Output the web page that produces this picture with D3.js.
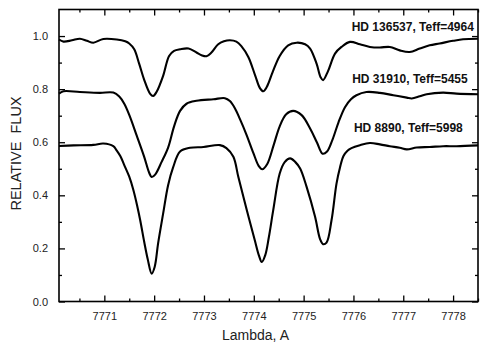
<!DOCTYPE html>
<html>
<head>
<meta charset="utf-8">
<script src="https://cdn.jsdelivr.net/npm/d3@7"></script>
<style>
  body { margin: 0; background: #fff; }
  text { font-family: "Liberation Sans", Arial, sans-serif; }
</style>
</head>
<body>
<div id="chart-container"></div>
<script>
// Spectra: [wavelength, relative flux]
const hd136537 = [
  [7770.09,0.987],[7770.18,0.979],[7770.35,0.984],[7770.51,0.990],[7770.65,0.982],[7770.78,0.975],
  [7770.98,0.989],[7771.25,0.987],[7771.42,0.980],[7771.50,0.972],[7771.60,0.950],[7771.70,0.895],
  [7771.80,0.835],[7771.92,0.782],[7771.98,0.774],[7772.05,0.790],[7772.18,0.850],[7772.30,0.925],
  [7772.40,0.944],[7772.52,0.950],[7772.69,0.953],[7772.85,0.938],[7772.95,0.928],[7773.05,0.924],
  [7773.15,0.938],[7773.28,0.968],[7773.40,0.980],[7773.52,0.984],[7773.65,0.979],[7773.75,0.962],
  [7773.89,0.921],[7774.03,0.850],[7774.12,0.805],[7774.19,0.792],[7774.26,0.808],[7774.38,0.865],
  [7774.52,0.925],[7774.69,0.965],[7774.86,0.975],[7775.03,0.969],[7775.13,0.953],[7775.26,0.896],
  [7775.34,0.845],[7775.39,0.834],[7775.49,0.868],[7775.63,0.934],[7775.76,0.959],[7775.93,0.978],
  [7776.13,0.969],[7776.33,0.959],[7776.53,0.957],[7776.73,0.959],[7776.93,0.946],[7777.13,0.940],
  [7777.33,0.953],[7777.53,0.965],[7777.73,0.972],[7778.00,0.982],[7778.20,0.988],[7778.50,0.990]
];

const hd31910 = [
  [7770.09,0.783],[7770.18,0.792],[7770.51,0.789],[7770.91,0.786],[7771.18,0.787],[7771.30,0.772],
  [7771.40,0.745],[7771.50,0.703],[7771.65,0.625],[7771.80,0.545],[7771.90,0.485],[7771.95,0.469],
  [7772.02,0.478],[7772.15,0.526],[7772.28,0.580],[7772.40,0.660],[7772.52,0.718],[7772.65,0.745],
  [7772.85,0.756],[7773.19,0.762],[7773.42,0.766],[7773.52,0.755],[7773.62,0.728],[7773.72,0.688],
  [7773.85,0.630],[7773.99,0.560],[7774.10,0.510],[7774.17,0.498],[7774.27,0.518],[7774.40,0.590],
  [7774.52,0.660],[7774.65,0.705],[7774.79,0.718],[7774.96,0.702],[7775.13,0.652],[7775.27,0.598],
  [7775.38,0.557],[7775.47,0.565],[7775.58,0.610],[7775.70,0.675],[7775.83,0.732],[7775.95,0.762],
  [7776.06,0.777],[7776.26,0.789],[7776.53,0.786],[7776.80,0.777],[7777.07,0.768],[7777.17,0.765],
  [7777.33,0.773],[7777.47,0.781],[7777.80,0.787],[7778.07,0.783],[7778.50,0.781]
];

const hd8890 = [
  [7770.09,0.586],[7770.38,0.588],[7770.78,0.590],[7770.98,0.595],[7771.18,0.585],[7771.25,0.568],
  [7771.32,0.548],[7771.42,0.505],[7771.50,0.470],[7771.58,0.422],[7771.66,0.360],[7771.72,0.306],
  [7771.80,0.225],[7771.87,0.160],[7771.95,0.105],[7772.01,0.130],[7772.08,0.220],[7772.18,0.331],
  [7772.28,0.438],[7772.38,0.505],[7772.52,0.565],[7772.72,0.579],[7772.99,0.582],[7773.32,0.589],
  [7773.45,0.578],[7773.59,0.545],[7773.69,0.469],[7773.86,0.344],[7774.02,0.231],[7774.10,0.175],
  [7774.16,0.149],[7774.23,0.175],[7774.30,0.240],[7774.39,0.344],[7774.52,0.482],[7774.62,0.525],
  [7774.73,0.539],[7774.83,0.526],[7774.93,0.501],[7775.06,0.432],[7775.23,0.319],[7775.33,0.235],
  [7775.39,0.216],[7775.46,0.222],[7775.56,0.306],[7775.66,0.444],[7775.73,0.505],[7775.80,0.548],
  [7775.88,0.568],[7775.96,0.578],[7776.13,0.589],[7776.33,0.597],[7776.53,0.592],[7776.73,0.585],
  [7776.93,0.579],[7777.07,0.573],[7777.27,0.580],[7777.53,0.582],[7777.80,0.585],[7778.07,0.585],
  [7778.50,0.588]
];

const seriesLabels = ["HD 136537, Teff=4964", "HD 31910, Teff=5455", "HD 8890, Teff=5998"];
const labelFlux = [1.018, 0.823, 0.640];          // baseline height of each label
const labelLambda = [7775.965, 7775.975, 7776.01]; // left edge of each label

const xTicks = [7771, 7772, 7773, 7774, 7775, 7776, 7777, 7778];
const xMinorTicks = [7770.5, 7771.5, 7772.5, 7773.5, 7774.5, 7775.5, 7776.5, 7777.5, 7778.5];
const yTicks = [0.0, 0.2, 0.4, 0.6, 0.8, 1.0];
const yMinorTicks = [0.1, 0.3, 0.5, 0.7, 0.9];

const svgWidth = 491;
const svgHeight = 355;
const plot = { left: 59, right: 478, top: 9.5, bottom: 301.5 };

const svg = d3.select("#chart-container")
  .append("svg")
  .attr("width", svgWidth)
  .attr("height", svgHeight);

svg.append("rect").attr("width", svgWidth).attr("height", svgHeight).attr("fill", "#fff");

// scales
const xScale = d3.scaleLinear()
  .domain([7770.09, 7778.5])
  .range([plot.left, plot.right]);

const yScale = d3.scaleLinear()
  .domain([0, 1.1])
  .range([plot.bottom, plot.top]);

// axes: ticks point inwards on all four sides
const tickFont = g => g.selectAll("text")
  .style("font-size", "11px")
  .style("fill", "#222");

const bottomAxis = svg.append("g")
  .attr("transform", `translate(0,${plot.bottom})`)
  .call(d3.axisBottom(xScale).tickValues(xTicks).tickFormat(d3.format("d"))
    .tickSizeInner(-6).tickSizeOuter(0).tickPadding(11));
bottomAxis.call(tickFont);

svg.append("g")
  .attr("transform", `translate(0,${plot.bottom})`)
  .call(d3.axisBottom(xScale).tickValues(xMinorTicks).tickFormat("")
    .tickSizeInner(-3).tickSizeOuter(0));

svg.append("g")
  .attr("transform", `translate(0,${plot.top})`)
  .call(d3.axisTop(xScale).tickValues(xTicks).tickFormat("")
    .tickSizeInner(-6).tickSizeOuter(0));

svg.append("g")
  .attr("transform", `translate(0,${plot.top})`)
  .call(d3.axisTop(xScale).tickValues(xMinorTicks).tickFormat("")
    .tickSizeInner(-3).tickSizeOuter(0));

const leftAxis = svg.append("g")
  .attr("transform", `translate(${plot.left},0)`)
  .call(d3.axisLeft(yScale).tickValues(yTicks).tickFormat(d3.format(".1f"))
    .tickSizeInner(-6).tickSizeOuter(0).tickPadding(11));
leftAxis.call(tickFont);

svg.append("g")
  .attr("transform", `translate(${plot.left},0)`)
  .call(d3.axisLeft(yScale).tickValues(yMinorTicks).tickFormat("")
    .tickSizeInner(-3).tickSizeOuter(0));

svg.append("g")
  .attr("transform", `translate(${plot.right},0)`)
  .call(d3.axisRight(yScale).tickValues(yTicks).tickFormat("")
    .tickSizeInner(-6).tickSizeOuter(0));

svg.append("g")
  .attr("transform", `translate(${plot.right},0)`)
  .call(d3.axisRight(yScale).tickValues(yMinorTicks).tickFormat("")
    .tickSizeInner(-3).tickSizeOuter(0));

svg.selectAll(".domain").remove();
svg.selectAll(".tick line").attr("stroke", "#000").attr("stroke-width", 1.3);

// frame
svg.append("rect")
  .attr("x", plot.left)
  .attr("y", plot.top)
  .attr("width", plot.right - plot.left)
  .attr("height", plot.bottom - plot.top)
  .attr("fill", "none")
  .attr("stroke", "#000")
  .attr("stroke-width", 1.6);

// spectra
const line = d3.line()
  .x(d => xScale(d[0]))
  .y(d => yScale(d[1]))
  .curve(d3.curveCatmullRom.alpha(0.5));

svg.selectAll(".spectrum")
  .data([hd136537, hd31910, hd8890])
  .join("path")
  .attr("class", "spectrum")
  .attr("d", line)
  .attr("fill", "none")
  .attr("stroke", "#000")
  .attr("stroke-width", 2.1)
  .attr("stroke-linejoin", "round");

// star labels
svg.selectAll(".star-label")
  .data(seriesLabels)
  .join("text")
  .attr("class", "star-label")
  .attr("x", (d, i) => xScale(labelLambda[i]))
  .attr("y", (d, i) => yScale(labelFlux[i]))
  .text(d => d)
  .style("font-size", "12px")
  .style("font-weight", "bold")
  .style("fill", "#111");

// axis titles
svg.append("text")
  .attr("x", 255.5)
  .attr("y", 340)
  .attr("text-anchor", "middle")
  .style("font-size", "14px")
  .style("fill", "#222")
  .text("Lambda, A");

svg.append("text")
  .attr("transform", "translate(21,153.5) rotate(-90)")
  .attr("text-anchor", "middle")
  .attr("xml:space", "preserve")
  .style("white-space", "pre")
  .style("font-size", "14.5px")
  .style("fill", "#222")
  .text("RELATIVE  FLUX");
</script>
</body>
</html>
